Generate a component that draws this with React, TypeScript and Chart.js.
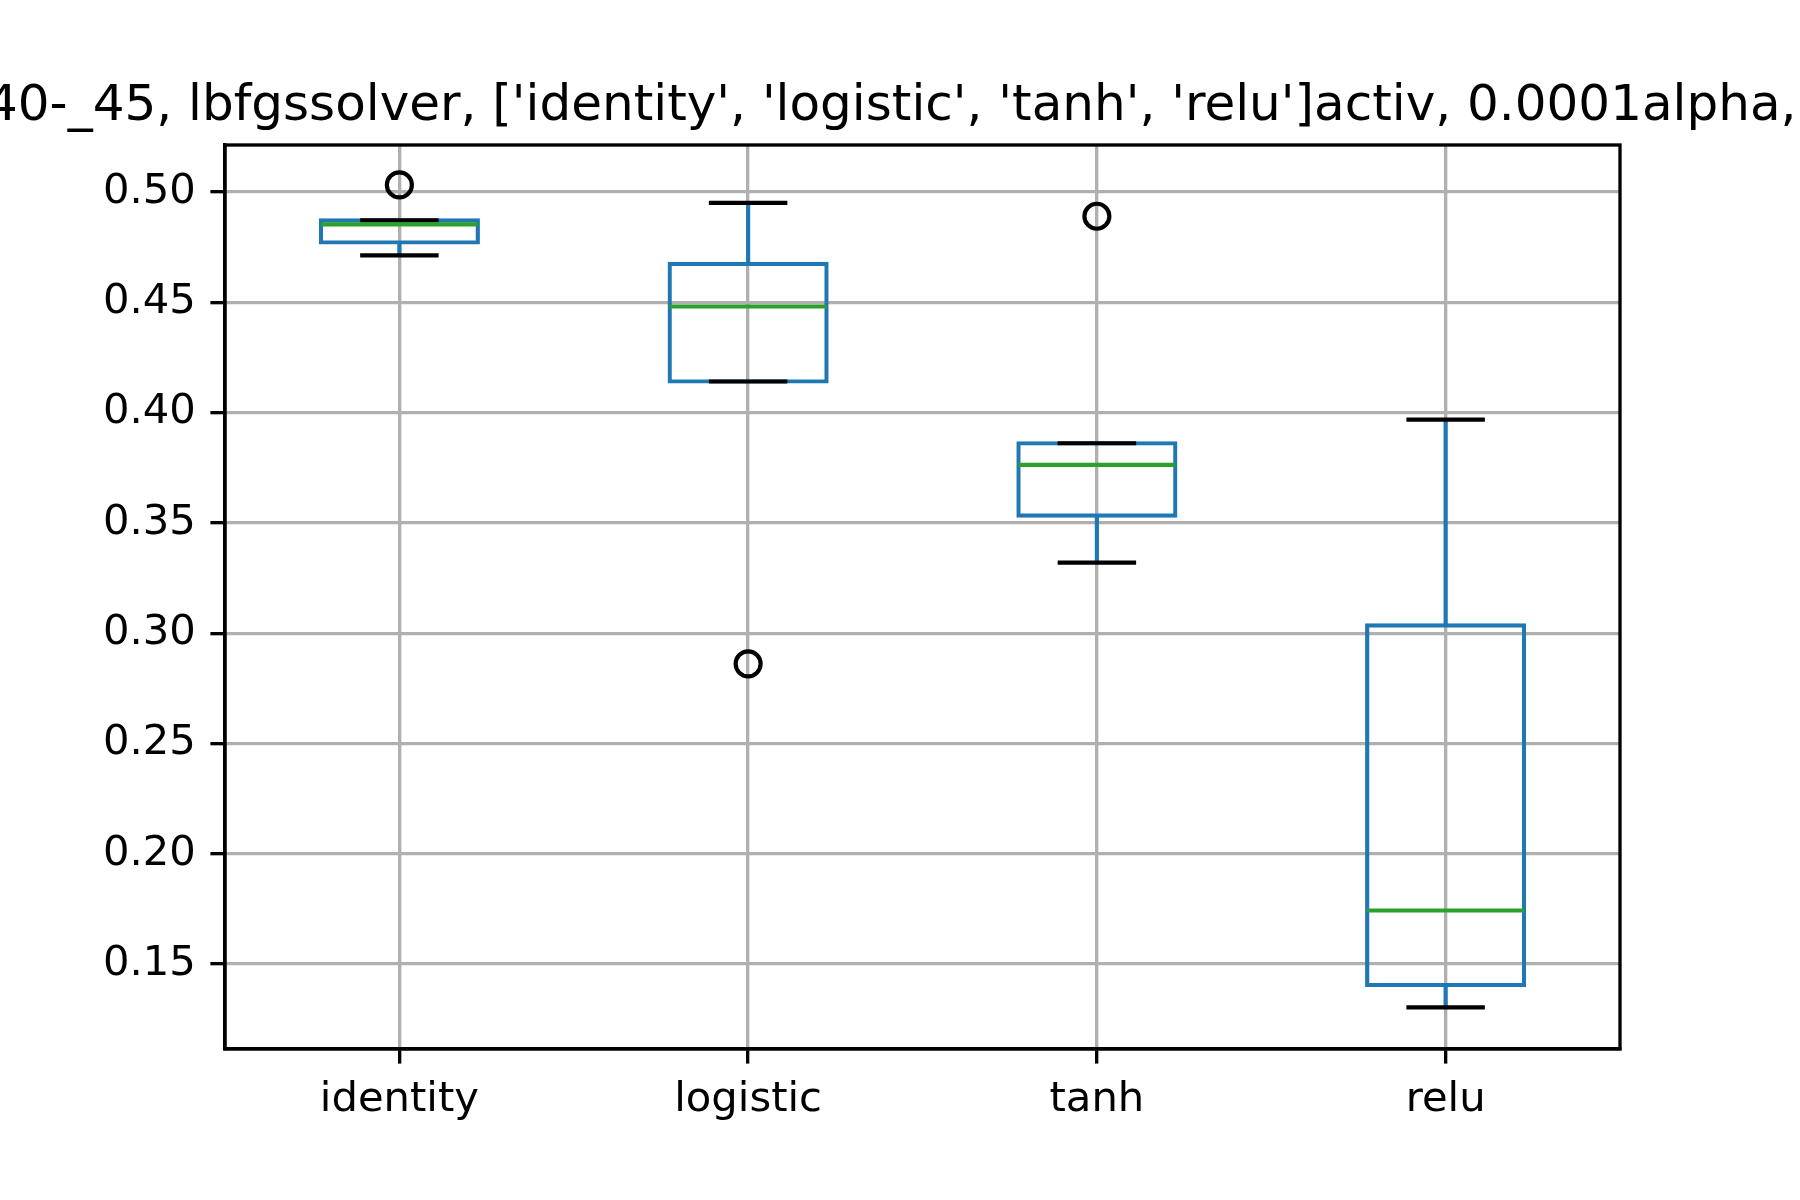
import React, { useEffect, useRef } from "react";
import { Chart, registerables } from "chart.js";

Chart.register(...registerables);

const categories = ["identity", "logistic", "tanh", "relu"];
const whiskerLow = [0.4713, 0.4141, 0.332, 0.1304];
const q1 = [0.4771, 0.4141, 0.3533, 0.1405];
const medians = [0.4853, 0.4481, 0.3763, 0.1743];
const q3 = [0.4871, 0.4674, 0.3861, 0.3035];
const whiskerHigh = [0.4871, 0.4951, 0.3861, 0.3968];
const outlierCategories = ["identity", "logistic", "tanh"];
const outlierValues = [0.5032, 0.2861, 0.489];
const yTicks = [0.15, 0.2, 0.25, 0.3, 0.35, 0.4, 0.45, 0.5];
const yMin = 0.1115;
const yMax = 0.5213;
const titleText =
  "40-_45, lbfgssolver, ['identity', 'logistic', 'tanh', 'relu']activ, 0.0001alpha,";

const FONT = "'DejaVu Sans', sans-serif";
const BOX_WIDTH = 0.45; // in category units
const LW = 4.17;
const GRID_LW = 3.33;

const boxPlugin = {
  id: "boxExtras",
  afterDatasetsDraw(chart: any) {
    const ctx = chart.ctx;
    const xs = chart.scales.x;
    const ys = chart.scales.y;
    const step = xs.getPixelForValue(1) - xs.getPixelForValue(0);
    const halfBox = (BOX_WIDTH * step) / 2;
    const halfCap = halfBox / 2;
    ctx.save();
    ctx.lineCap = "butt";
    categories.forEach((_, i) => {
      const cx = xs.getPixelForValue(i);
      // whiskers
      ctx.strokeStyle = "#1f77b4";
      ctx.lineWidth = LW;
      ctx.beginPath();
      ctx.moveTo(cx, ys.getPixelForValue(q3[i]));
      ctx.lineTo(cx, ys.getPixelForValue(whiskerHigh[i]));
      ctx.moveTo(cx, ys.getPixelForValue(q1[i]));
      ctx.lineTo(cx, ys.getPixelForValue(whiskerLow[i]));
      ctx.stroke();
      // caps
      ctx.strokeStyle = "#000000";
      ctx.beginPath();
      const yh = ys.getPixelForValue(whiskerHigh[i]);
      const yl = ys.getPixelForValue(whiskerLow[i]);
      ctx.moveTo(cx - halfCap, yh);
      ctx.lineTo(cx + halfCap, yh);
      ctx.moveTo(cx - halfCap, yl);
      ctx.lineTo(cx + halfCap, yl);
      ctx.stroke();
      // median
      ctx.strokeStyle = "#2ca02c";
      ctx.beginPath();
      const ym = ys.getPixelForValue(medians[i]);
      ctx.moveTo(cx - halfBox, ym);
      ctx.lineTo(cx + halfBox, ym);
      ctx.stroke();
    });
    ctx.restore();
  },
  afterDraw(chart: any) {
    const ctx = chart.ctx;
    const a = chart.chartArea;
    ctx.save();
    ctx.strokeStyle = "#000000";
    ctx.lineWidth = GRID_LW;
    ctx.strokeRect(a.left, a.top, a.right - a.left, a.bottom - a.top);
    ctx.fillStyle = "#000000";
    ctx.font = `50px ${FONT}`;
    ctx.textAlign = "left";
    ctx.textBaseline = "alphabetic";
    ctx.fillText(titleText, -14, 120);
    ctx.restore();
  },
};

export default function App() {
  const ref = useRef<HTMLCanvasElement | null>(null);
  useEffect(() => {
    if (!ref.current) return;
    const boxData = categories.map((_, i) => [q1[i], q3[i]]);
    const outliers = outlierCategories.map((c, i) => ({ x: c, y: outlierValues[i] }));
    const chart = new Chart(ref.current, {
      type: "bar",
      data: {
        labels: categories,
        datasets: [
          {
            type: "bar",
            data: boxData as any,
            backgroundColor: "rgba(0,0,0,0)",
            borderColor: "#1f77b4",
            // stroke centred on the box edges (matplotlib style)
            borderWidth: 0.01,
            inflateAmount: LW / 2,
            borderSkipped: false,
            categoryPercentage: 1,
            barPercentage: BOX_WIDTH,
          } as any,
          {
            type: "scatter",
            data: outliers as any,
            showLine: false,
            pointStyle: "circle",
            pointRadius: 12.5,
            pointBorderWidth: LW,
            pointBorderColor: "#000000",
            pointBackgroundColor: "rgba(0,0,0,0)",
          } as any,
        ],
      },
      options: {
        responsive: false,
        animation: false,
        devicePixelRatio: 1,
        layout: { padding: { left: 100, right: 180, top: 145, bottom: 71 } },
        plugins: {
          legend: { display: false },
          tooltip: { enabled: false },
          title: { display: false },
        },
        scales: {
          x: {
            type: "category",
            offset: true,
            grid: {
              display: true,
              offset: false,
              color: "#b0b0b0",
              lineWidth: GRID_LW,
              tickColor: "#000000",
              tickWidth: GRID_LW,
              tickLength: 14.6,
              drawTicks: true,
            },
            border: { display: true, color: "#000000", width: GRID_LW },
            ticks: {
              color: "#000000",
              font: { family: FONT, size: 41.7 },
              padding: 12,
              maxRotation: 0,
            },
            afterFit(scale: any) {
              scale.height = 80;
            },
          },
          y: {
            type: "linear",
            min: yMin,
            max: yMax,
            grid: {
              color: "#b0b0b0",
              lineWidth: GRID_LW,
              tickColor: "#000000",
              tickWidth: GRID_LW,
              tickLength: 14.6,
              drawTicks: true,
            },
            border: { display: true, color: "#000000", width: GRID_LW },
            ticks: {
              color: "#000000",
              font: { family: FONT, size: 41.7 },
              padding: 14.6,
              callback: (v: any) => Number(v).toFixed(2),
            },
            afterBuildTicks(scale: any) {
              scale.ticks = yTicks.map((v) => ({ value: v }));
            },
            afterFit(scale: any) {
              scale.width = 125;
            },
          },
        },
      } as any,
      plugins: [boxPlugin],
    });
    return () => chart.destroy();
  }, []);
  return (
    <div style={{ position: "fixed", left: 0, top: 0, width: 1800, height: 1200, background: "#ffffff" }}>
      <canvas ref={ref} width={1800} height={1200} style={{ width: 1800, height: 1200 }} />
    </div>
  );
}
